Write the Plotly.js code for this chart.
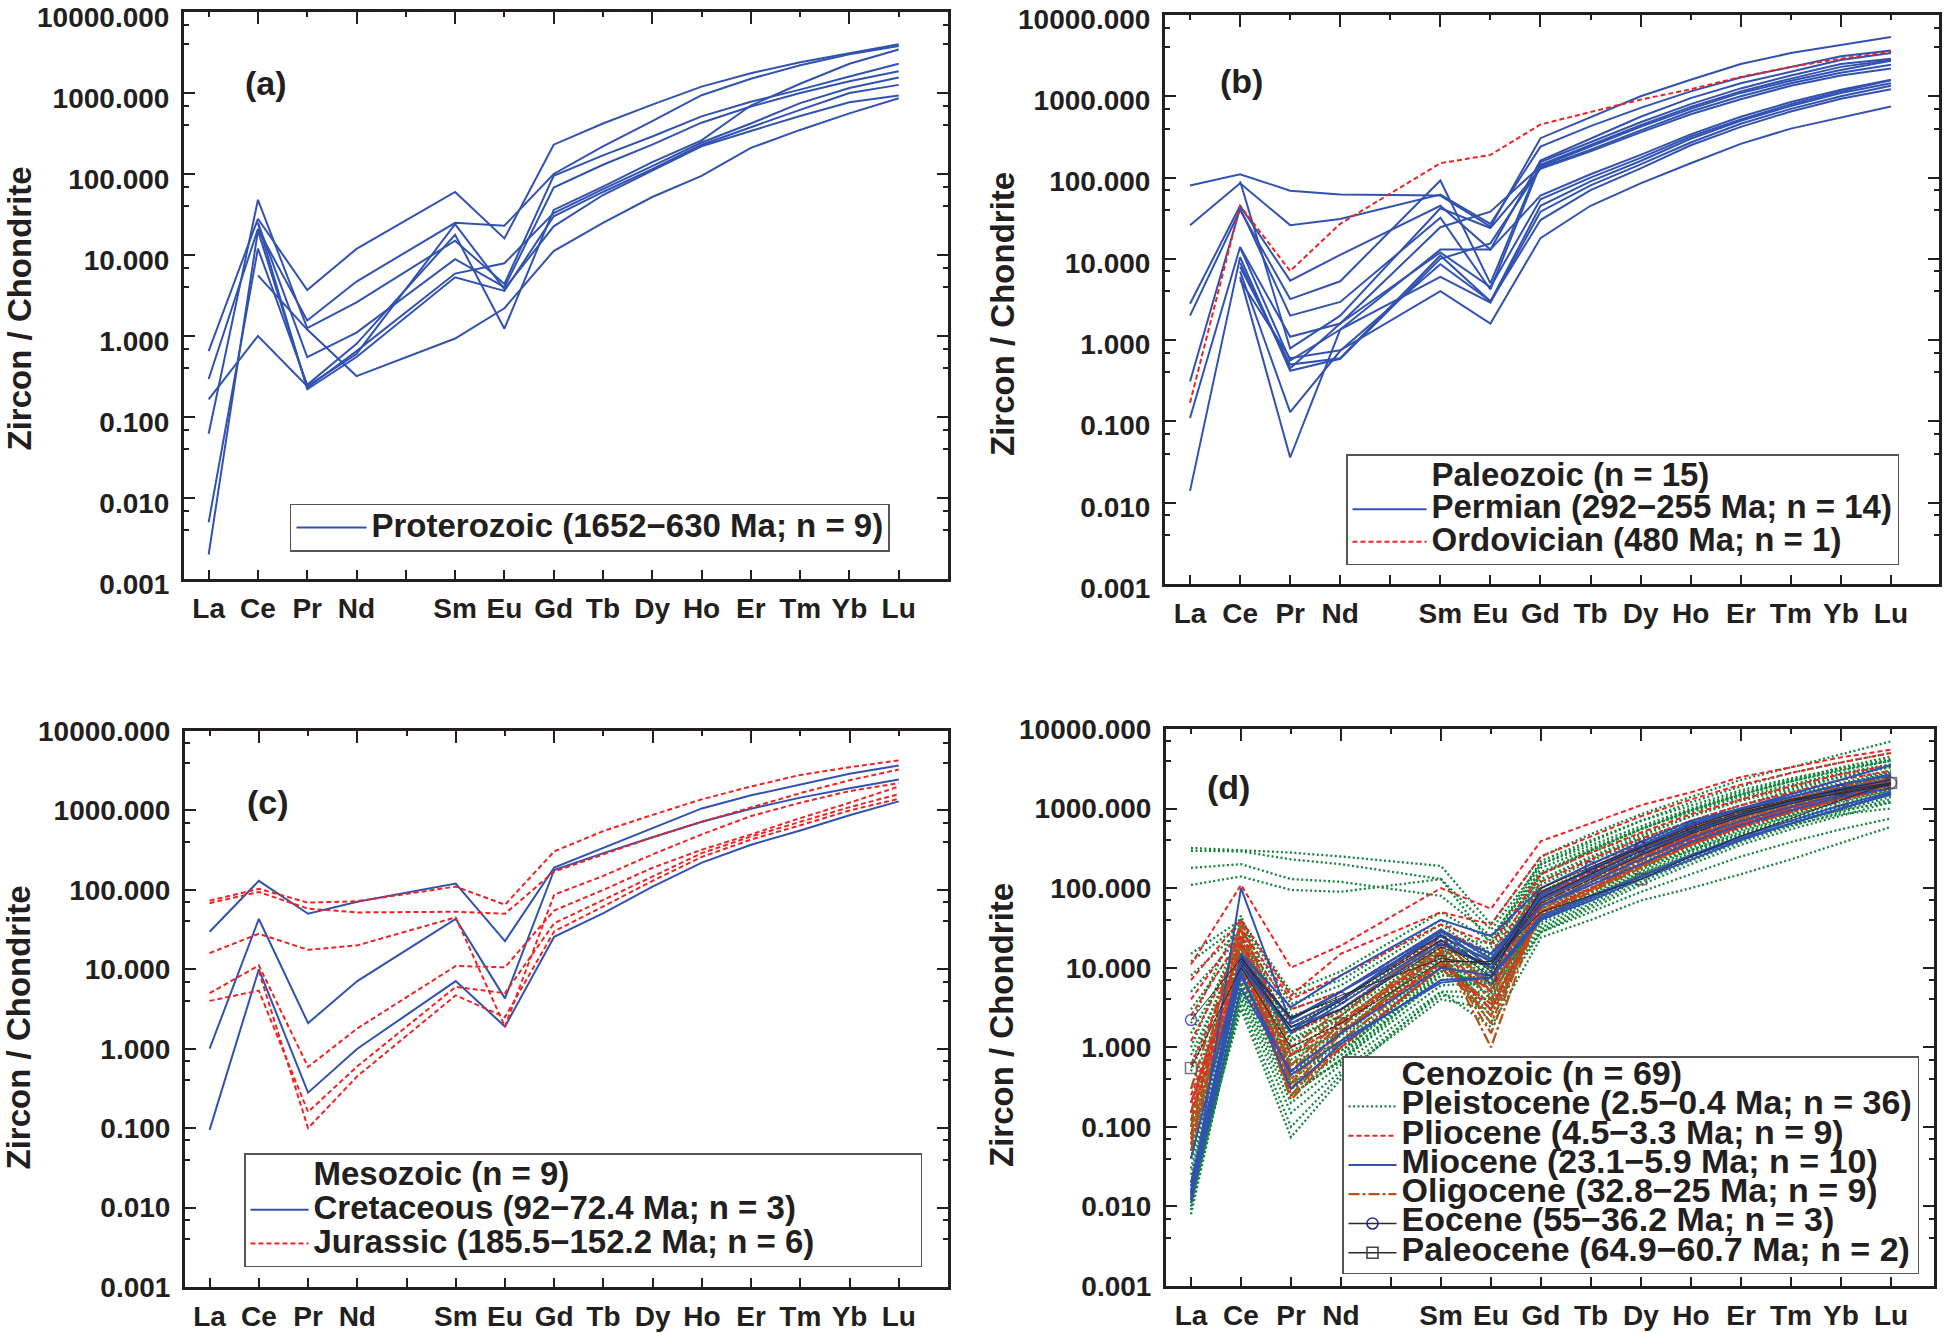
<!DOCTYPE html>
<html><head><meta charset="utf-8">
<script src="https://cdn.plot.ly/plotly-3.0.1.min.js"></script>
<style>html,body{margin:0;padding:0;background:#fff;}#chart{width:1946px;height:1333px;}</style>
</head><body><div id="chart"></div>
<script>
// ---------- axis labels ----------
const tickLabels = ['La','Ce','Pr','Nd','','Sm','Eu','Gd','Tb','Dy','Ho','Er','Tm','Yb','Lu'];
const tickPositions = [0,1,2,3,4,5,6,7,8,9,10,11,12,13,14];
// element order of every data row: La Ce Pr Nd Sm Eu Gd Tb Dy Ho Er Tm Yb Lu (Pm skipped)
const reePositions = [0,1,2,3,5,6,7,8,9,10,11,12,13,14];
const yTickVals = [0.001,0.01,0.1,1,10,100,1000,10000];
const yTickText = ['0.001','0.010','0.100','1.000','10.000','100.000','1000.000','10000.000'];
const yMinorVals = [0.004,0.007,0.04,0.07,0.4,0.7,4,7,40,70,400,700,4000,7000];

// ---------- (a) Proterozoic ----------
const proterozoic = [
 [0.65, 28, 3.7, 11.9, 60, 16, 230, 420, 720, 1200, 1750, 2400, 3100, 4000],
 [0.295, 21, 1.55, 4.7, 25, 23, 100, 220, 450, 940, 1500, 2200, 3000, 3800],
 [0.062, 48, 1.25, 2.6, 15, 4.4, 95, 170, 290, 515, 780, 1100, 1600, 2300],
 [null, 25, 0.55, 1.1, 8.9, 4.0, 68, 130, 230, 430, 680, 1000, 1400, 1860],
 [0.005, 12, 0.25, 0.8, 17.8, 1.23, 36, 70, 140, 260, 700, 1300, 2300, 3450],
 [0.002, 20, 0.23, 0.65, 5.9, 7.9, 33, 65, 125, 245, 420, 750, 1150, 1550],
 [null, 25, 0.22, 0.55, 5.3, 3.6, 30, 60, 115, 230, 380, 620, 1000, 1260],
 [0.165, 1.0, 0.24, 0.6, 24, 3.8, 22.6, 55, 110, 220, 340, 520, 770, 930],
 [null, 5.6, 1.2, 0.32, 0.93, 2.2, 11.2, 25, 52, 95, 210, 350, 560, 860]
];

// ---------- (b) Paleozoic ----------
const permian = [
 [80, 110, 69, 62, 60, 25, 305, 550, 1000, 1600, 2500, 3400, 4300, 5350],
 [25.9, 85, 26, 31, 62, 27, 240, 430, 720, 1150, 1700, 2300, 3100, 3650],
 [2.8, 45, 5.4, 11.2, 45, 13, 162, 300, 560, 950, 1450, 2000, 2800, 3400],
 [2.0, 40, 3.2, 5.3, 92, 5, 155, 270, 480, 800, 1250, 1800, 2500, 2900],
 [0.31, 42, 2.0, 2.95, 32, 4.2, 144, 250, 440, 740, 1150, 1650, 2300, 2800],
 [0.11, 14, 1.1, 1.6, 24.5, 38, 138, 240, 420, 700, 1100, 1550, 2100, 2740],
 [0.014, 10.5, 0.42, 0.59, 10, 15.5, 132, 220, 380, 650, 1000, 1450, 1950, 2440],
 [null, 90, 0.79, 2.0, 42, 24, 128, 210, 360, 600, 920, 1350, 1800, 2200],
 [null, 13.8, 0.56, 1.35, 13, 13, 60, 110, 190, 340, 560, 850, 1200, 1600],
 [null, 9, 0.45, 1.6, 12, 4.5, 54, 100, 175, 320, 520, 800, 1150, 1570],
 [null, 7, 0.13, 0.74, 8.6, 3, 45, 90, 160, 300, 500, 760, 1100, 1450],
 [null, 6, 0.036, 1.35, 6, 2.9, 38, 80, 145, 270, 460, 700, 1000, 1350],
 [null, 8, 0.5, 0.6, 11, 3, 30, 70, 130, 250, 420, 650, 930, 1220],
 [null, 5.5, 0.6, 0.75, 4, 1.6, 18, 45, 85, 150, 260, 400, 550, 750]
];
const ordovician = [
 [0.17, 45, 7.1, 27, 150, 190, 450, 640, 910, 1220, 1730, 2300, 2900, 3540]
];

// ---------- (c) Mesozoic ----------
const cretaceous = [
 [29.7, 130, 50, 71, 120, 22.6, 191, 340, 600, 1060, 1550, 2100, 2900, 3670],
 [1.0, 43, 2.1, 7.1, 43, 4.3, 178, 290, 460, 720, 1050, 1450, 1900, 2450],
 [0.095, 10, 0.28, 1.0, 7.1, 1.9, 25.6, 51, 110, 220, 370, 560, 870, 1300]
];
const jurassic = [
 [73, 103, 69, 72, 110, 65, 305, 550, 880, 1380, 2000, 2800, 3500, 4270],
 [68, 94, 58, 52, 53, 50, 170, 280, 460, 720, 1100, 1650, 2400, 3270],
 [16, 28, 17.6, 20, 45, 1.9, 87, 150, 280, 500, 850, 1250, 1750, 2200],
 [5.0, 11.2, 0.59, 1.8, 11, 10.6, 55, 100, 190, 320, 500, 800, 1250, 2000],
 [4.0, 5.4, 0.16, 0.6, 6.0, 5, 38, 75, 150, 290, 470, 720, 1100, 1600],
 [null, 9.5, 0.10, 0.45, 4.7, 2.5, 30, 62, 130, 260, 430, 650, 1000, 1400]
];

// ---------- (d) Cenozoic ----------
const pleistocene = [
 [320, 300, 280, 250, 190, 35, 250, 480, 850, 1400, 2300, 3300, 4800, 7000],
 [295, 290, 230, 200, 130, 30, 200, 380, 700, 1200, 1900, 2800, 3800, 5000],
 [180, 200, 130, 120, 80, 25, 160, 300, 550, 950, 1500, 2200, 3100, 4000],
 [110, 140, 95, 90, 130, 20, 130, 250, 450, 800, 1300, 1900, 2700, 3500],
 [15, 40, 5, 9, 50, 22, 220, 400, 700, 1100, 1700, 2400, 3200, 4200],
 [12, 35, 4.5, 7, 40, 15, 180, 320, 560, 900, 1400, 2000, 2800, 3600],
 [8, 30, 3.5, 6, 35, 12, 150, 280, 480, 800, 1250, 1800, 2500, 3300],
 [5, 25, 3, 5, 30, 10, 120, 240, 420, 700, 1100, 1600, 2300, 3000],
 [3, 22, 2.5, 4, 28, 14, 100, 200, 380, 650, 1000, 1500, 2100, 2900],
 [1.5, 20, 2, 3.5, 25, 9, 90, 180, 340, 600, 950, 1400, 2000, 2800],
 [0.8, 18, 1.8, 3, 22, 8, 85, 170, 320, 560, 900, 1350, 1900, 2600],
 [0.5, 16, 1.5, 2.8, 20, 7, 80, 160, 300, 520, 850, 1300, 1800, 2500],
 [0.3, 15, 1.3, 2.5, 18, 6, 75, 150, 280, 500, 800, 1200, 1700, 2400],
 [0.2, 14, 1.2, 2.2, 17, 5, 70, 140, 260, 470, 760, 1150, 1650, 2300],
 [0.12, 13, 1.0, 2, 16, 4, 65, 130, 250, 450, 720, 1100, 1600, 2200],
 [0.08, 12, 0.9, 1.8, 15, 3, 60, 120, 230, 420, 680, 1050, 1500, 2100],
 [0.05, 11, 0.8, 1.6, 14, 2.5, 55, 110, 210, 400, 650, 1000, 1450, 2000],
 [0.04, 10, 0.7, 1.5, 13, 2, 50, 100, 200, 380, 620, 950, 1400, 1900],
 [0.03, 9, 0.6, 1.4, 12, 3.5, 48, 95, 190, 360, 600, 900, 1350, 1850],
 [0.025, 8, 0.5, 1.2, 11, 4.5, 45, 90, 180, 340, 570, 850, 1300, 1800],
 [0.02, 7, 0.45, 1.1, 10, 5.5, 42, 85, 170, 320, 540, 820, 1250, 1700],
 [0.015, 6, 0.4, 1.0, 9, 6, 40, 80, 160, 300, 510, 800, 1200, 1650],
 [0.012, 6.5, 0.35, 0.9, 8, 7, 38, 75, 150, 280, 480, 750, 1100, 1550],
 [0.01, 5.5, 0.3, 0.8, 7, 8, 35, 70, 140, 260, 450, 700, 1050, 1500],
 [0.008, 5, 0.25, 0.7, 6, 6.5, 32, 65, 130, 240, 420, 650, 950, 1400],
 [0.009, 4.5, 0.2, 0.6, 5, 5, 30, 60, 120, 220, 380, 600, 900, 1300],
 [0.011, 4, 0.15, 0.5, 4.5, 4, 28, 55, 110, 200, 350, 550, 820, 1200],
 [0.014, 3.5, 0.1, 0.45, 4, 3, 28, 50, 90, 150, 250, 380, 550, 750],
 [0.018, 3, 0.074, 0.4, 5, 1.8, 24, 40, 70, 100, 150, 230, 370, 590],
 [0.6, 25, 0.5, 0.9, 10, 12, 110, 220, 400, 700, 1100, 1700, 2500, 3400],
 [1, 30, 0.8, 1.5, 15, 18, 150, 300, 550, 950, 1500, 2200, 3000, 4000],
 [2, 45, 1.2, 2.5, 25, 20, 200, 350, 600, 1000, 1600, 2300, 3300, 4500],
 [0.15, 20, 0.35, 0.8, 12, 11, 75, 140, 250, 420, 650, 950, 1300, 1700],
 [0.06, 12, 0.25, 0.7, 9, 9, 55, 100, 180, 300, 480, 700, 950, 1200],
 [0.04, 8, 0.3, 0.65, 8, 10, 45, 80, 150, 260, 420, 620, 850, 1000],
 [0.1, 9, 0.6, 1.2, 20, 13, 90, 170, 300, 500, 800, 1200, 1700, 2200]
];
const pliocene = [
 [11, 110, 10, 19, 100, 55, 390, 650, 1100, 1600, 2500, 3300, 4400, 5500],
 [7, 40, 4.5, 15, 50, 35, 250, 450, 800, 1300, 2000, 2800, 3800, 5000],
 [4, 30, 4, 8, 35, 20, 150, 280, 500, 850, 1300, 1900, 2700, 3500],
 [2.5, 25, 3, 5, 30, 15, 120, 230, 420, 700, 1100, 1600, 2300, 3000],
 [1.2, 20, 2, 4, 25, 12, 100, 200, 360, 600, 950, 1400, 2000, 2600],
 [0.6, 15, 1.5, 3, 20, 10, 80, 160, 300, 500, 800, 1200, 1700, 2300],
 [0.25, 12, 0.8, 2, 15, 5, 60, 120, 230, 400, 650, 1000, 1400, 2000],
 [0.2, 10, 0.5, 1.5, 12, 3, 50, 100, 200, 350, 580, 900, 1300, 1800],
 [0.15, 8, 0.3, 1, 10, 8, 70, 140, 260, 450, 700, 1050, 1500, 2100]
];
const miocene = [
 [0.012, 100, 2.0, 4, 30, 10, 80, 180, 350, 650, 1000, 1500, 2300, 3500],
 [0.015, 15, 3.2, 8, 40, 25, 100, 200, 380, 700, 1000, 1400, 2000, 2600],
 [0.02, 12, 2.3, 5, 25, 12, 75, 150, 300, 550, 850, 1250, 1800, 2300],
 [0.011, 10, 1.6, 4, 28, 15, 70, 140, 270, 500, 800, 1200, 1700, 2100],
 [0.04, 13, 1.5, 3.5, 22, 10, 60, 110, 200, 380, 620, 950, 1400, 1800],
 [0.013, 5.5, 0.5, 1.5, 10, 8, 45, 80, 140, 250, 420, 650, 1000, 1500],
 [0.014, 9, 0.3, 1.1, 7, 7.5, 40, 70, 130, 230, 400, 650, 1000, 1550],
 [0.016, 11, 1.8, 3, 20, 10, 60, 120, 230, 430, 700, 1050, 1500, 2000],
 [0.012, 14, 2.2, 5, 30, 13, 85, 170, 330, 620, 950, 1400, 2000, 2700],
 [0.018, 8, 0.45, 1.2, 6.5, 7.5, 42, 75, 140, 260, 450, 700, 1100, 1600]
];
const oligocene = [
 [0.15, 40, 0.8, 2.5, 25, 5, 80, 150, 300, 550, 850, 1300, 1900, 2500],
 [0.1, 30, 0.5, 2, 20, 4, 70, 140, 270, 500, 800, 1200, 1700, 2300],
 [0.08, 25, 0.35, 1.8, 18, 1.0, 60, 120, 240, 450, 750, 1100, 1600, 2200],
 [0.06, 20, 0.3, 1.5, 15, 2, 55, 110, 220, 420, 700, 1050, 1500, 2100],
 [0.2, 18, 0.25, 1.2, 12, 3, 50, 100, 200, 380, 650, 1000, 1400, 2000],
 [0.05, 15, 0.22, 1, 10, 2.5, 45, 90, 180, 350, 600, 900, 1300, 1800],
 [0.3, 35, 1, 3, 22, 6, 90, 170, 320, 580, 900, 1300, 1800, 2400],
 [0.12, 22, 0.6, 2.2, 16, 1.5, 65, 130, 250, 470, 760, 1150, 1650, 2200],
 [0.07, 12, 0.4, 1.6, 11, 3.5, 48, 95, 190, 360, 620, 950, 1350, 1900]
];
const eocene = [
 [2.2, 13, 2.4, 4.2, 22, 7.6, 100, 185, 330, 590, 950, 1300, 1700, 2100],
 [null, 11, 1.8, 3.8, 26, 9, 75, 150, 290, 520, 850, 1250, 1750, 2300],
 [null, 14, 1.6, 3, 18, 11, 65, 130, 260, 480, 800, 1150, 1600, 2050]
];
const paleocene = [
 [0.55, 10, 1.0, 2.0, 12, 12, 50, 80, 130, 250, 450, 750, 1280, 2100],
 [null, 12, 2.3, 4.5, 13, 11, 90, 170, 320, 560, 900, 1250, 1550, 2000]
];

// ---------- styles ----------
const FONT = 'Liberation Sans, Arial, Helvetica, sans-serif';
const INK = '#231f20';
const BLUE = '#3152b0', RED = '#ee2424', GREEN = '#13853a', BROWN = '#b5521c';
const styleBlue = {color: BLUE, width: 2};
const styleRed = {color: RED, width: 2, dash: '5px,3px'};
const styleGreen = {color: GREEN, width: 2.3, dash: '2px,2.5px'};
const styleBrown = {color: BROWN, width: 2.3, dash: '11px,3px,3px,3px'};
const styleBlack = {color: '#2a2a2a', width: 1.0};
const NBSP = '\u00a0';

function legendName(t, px){ return '<span style="font-size:' + (px || 33) + 'px">' + t + '</span>'; }

const traces = [];
function addGroup(rows, line, xa, ya, legendId, name, rank, px){
  rows.forEach((vals, i) => {
    traces.push({type:'scatter', mode:'lines', x: reePositions, y: vals, xaxis: xa, yaxis: ya,
      line: line, connectgaps: true, hoverinfo: 'skip',
      legend: legendId, legendrank: rank, name: legendName(name, px),
      showlegend: i === 0});
  });
}
function addMarked(rows, line, marker, sizes, xa, ya){
  rows.forEach((vals, i) => {
    traces.push({type:'scatter', mode:'lines+markers', x: reePositions, y: vals, xaxis: xa, yaxis: ya,
      line: line, connectgaps: true, hoverinfo: 'skip', showlegend: false,
      marker: Object.assign({}, marker, {size: sizes[i]})});
  });
}
function addHeader(name, xa, ya, legendId, rank, px){
  traces.push({type:'scatter', mode:'lines', x:[null], y:[null], xaxis: xa, yaxis: ya,
    line:{color:'rgba(0,0,0,0)', width:0}, legend: legendId, legendrank: rank,
    name: legendName(name, px), showlegend: true, hoverinfo:'skip'});
}
function addLegendOnly(name, line, marker, mode, xa, ya, legendId, rank, px){
  traces.push({type:'scatter', mode: mode, x:[null], y:[null], xaxis: xa, yaxis: ya,
    line: line, marker: marker, legend: legendId, legendrank: rank,
    name: legendName(name, px), showlegend: true, hoverinfo:'skip'});
}

// (a)
addGroup(proterozoic, styleBlue, 'x', 'y', 'legend', 'Proterozoic (1652\u2212630 Ma; n = 9)', 1);
// (b)
addHeader('Paleozoic (n = 15)', 'x2', 'y2', 'legend2', 1);
addGroup(permian, styleBlue, 'x2', 'y2', 'legend2', 'Permian (292\u2212255 Ma; n = 14)', 2);
addGroup(ordovician, styleRed, 'x2', 'y2', 'legend2', 'Ordovician (480 Ma; n = 1)', 3);
// (c)
addHeader('Mesozoic (n = 9)', 'x3', 'y3', 'legend3', 1);
addGroup(cretaceous, styleBlue, 'x3', 'y3', 'legend3', 'Cretaceous (92\u221272.4 Ma; n = 3)', 2);
addGroup(jurassic, styleRed, 'x3', 'y3', 'legend3', 'Jurassic (185.5\u2212152.2 Ma; n = 6)' + NBSP.repeat(11), 3);
// (d)  drawing order: green, brown, red, blue, black
const PXD = 34;
addHeader('Cenozoic (n = 69)', 'x4', 'y4', 'legend4', 1, PXD);
addGroup(pleistocene, styleGreen, 'x4', 'y4', 'legend4', 'Pleistocene (2.5\u22120.4 Ma; n = 36)', 2, PXD);
addGroup(oligocene, styleBrown, 'x4', 'y4', 'legend4', 'Oligocene (32.8\u221225 Ma; n = 9)', 5, PXD);
addGroup(pliocene, styleRed, 'x4', 'y4', 'legend4', 'Pliocene (4.5\u22123.3 Ma; n = 9)', 3, PXD);
addGroup(miocene, styleBlue, 'x4', 'y4', 'legend4', 'Miocene (23.1\u22125.9 Ma; n = 10)', 4, PXD);
const eoMarker = {symbol:'circle-open', color:'#2b2b8c', line:{width:1.6, color:'#2b2b8c'}};
const paMarker = {symbol:'square-open', color:'#444', line:{width:1.6, color:'#444'}};
addMarked(eocene, styleBlack, eoMarker,
  [[11,0,0,11,11,11,0,11,11,11,0,0,11,11],[0,0,0,0,0,0,0,0,0,0,0,0,0,0],[0,0,0,0,0,0,0,0,0,0,0,0,0,0]], 'x4', 'y4');
addMarked(paleocene, styleBlack, paMarker,
  [[11,0,0,11,11,0,0,0,11,0,0,0,11,11],[0,0,0,0,0,0,0,0,0,0,0,0,0,0]], 'x4', 'y4');
addLegendOnly('Eocene (55\u221236.2 Ma; n = 3)', {color:'#2a2a2a', width:1.4}, Object.assign({size:11}, eoMarker), 'lines+markers', 'x4', 'y4', 'legend4', 6, PXD);
addLegendOnly('Paleocene (64.9\u221260.7 Ma; n = 2)', {color:'#2a2a2a', width:1.4}, Object.assign({size:11}, paMarker), 'lines+markers', 'x4', 'y4', 'legend4', 7, PXD);

// ---------- axes ----------
const tickFont = {family: FONT, size: 28, color: INK, weight: 'bold'};
function xAxis(domain, anchor, rng){
  return {domain: domain, anchor: anchor, range: rng, tickmode:'array', tickvals: tickPositions, ticktext: tickLabels,
    ticks:'inside', ticklen: 9, tickwidth: 2, tickcolor: INK, showline: true, linewidth: 3, linecolor: INK,
    mirror: true, showgrid: false, zeroline: false, tickfont: tickFont, fixedrange: true,
    ticklabelstandoff: 2, ticklabeloverflow: 'allow'};
}
function topAxis(over, anchor, rng){
  return {overlaying: over, anchor: anchor, side: 'top', range: rng, tickmode:'array',
    tickvals: tickPositions.filter(v => v % 2 === 1), ticks:'inside', ticklen: 12, tickwidth: 2, tickcolor: INK,
    minor: {tickmode:'array', tickvals: tickPositions.filter(v => v % 2 === 0), ticks:'inside', ticklen: 5, tickwidth: 2, tickcolor: INK},
    showticklabels: false, showline: false, showgrid: false, zeroline: false, fixedrange: true};
}
function yAxis(domain, anchor, shift){
  return {domain: domain, anchor: anchor, type:'log', range:[-3, 4], tickmode:'array', tickvals: yTickVals, ticktext: yTickText,
    ticks:'inside', ticklen: 11, tickwidth: 2, tickcolor: INK, showline: true, linewidth: 3, linecolor: INK,
    mirror: 'ticks', showgrid: false, zeroline: false, tickfont: tickFont, fixedrange: true,
    ticklabelstandoff: 6, ticklabelshift: shift, ticklabeloverflow: 'allow',
    minor: {tickmode:'array', tickvals: yMinorVals, ticks:'inside', ticklen: 5, tickwidth: 2, tickcolor: INK, showgrid: false}};
}
const rangeA = [-0.5, 15.0], rangeB = [-0.5, 14.96], rangeC = [-0.5, 15.0], rangeD = [-0.5, 14.86];

function legendBox(x, y, size, itemW){
  return {x: x, y: y, xanchor:'left', yanchor:'top', bgcolor:'#ffffff', bordercolor:'#555', borderwidth: 1.5,
    font:{family: FONT, size: size, color: INK, weight:'bold'}, itemwidth: itemW, tracegroupgap: 0, traceorder:'normal'};
}

function ann(text, x, y, size, angle){
  return {text: text, x: x, y: y, xref:'paper', yref:'paper', showarrow:false, xanchor:'center', yanchor:'middle',
    textangle: angle || 0, font:{family: FONT, size: size, color: INK, weight:'bold'}};
}

const layout = {
  width: 1946, height: 1333, margin:{l:0, r:0, t:0, b:0},
  paper_bgcolor:'#ffffff', plot_bgcolor:'#ffffff', showlegend: true,
  font:{family: FONT, color: INK},
  xaxis: xAxis([0.094553, 0.487153], 'y', rangeA),
  yaxis: yAxis([0.565641, 0.990998], 'x', 5),
  xaxis2: xAxis([0.598664, 0.996403], 'y2', rangeB),
  yaxis2: yAxis([0.561890, 0.988747], 'x2', 4),
  xaxis3: xAxis([0.095067, 0.487153], 'y3', rangeC),
  yaxis3: yAxis([0.034509, 0.451613], 'x3', 0),
  xaxis4: xAxis([0.599178, 0.993834], 'y4', rangeD),
  yaxis4: yAxis([0.035259, 0.453113], 'x4', 0),
  xaxis5: topAxis('x', 'y', rangeA),
  xaxis6: topAxis('x2', 'y2', rangeB),
  xaxis7: topAxis('x3', 'y3', rangeC),
  xaxis8: topAxis('x4', 'y4', rangeD),
  legend: legendBox(0.14902, 0.62191, 24, 70),
  legend2: legendBox(0.69168, 0.65941, 22.7, 74),
  legend3: legendBox(0.12539, 0.13503, 23.5, 58),
  legend4: legendBox(0.68962, 0.20780, 20.2, 48),
  annotations: [
    ann('Zircon / Chondrite', 0.01000, 0.76894, 33, -90),
    ann('Zircon / Chondrite', 0.51490, 0.76444, 33, -90),
    ann('Zircon / Chondrite', 0.01000, 0.22956, 33, -90),
    ann('Zircon / Chondrite', 0.51490, 0.23106, 33, -90),
    ann('(a)', 0.13669, 0.93773, 34),
    ann('(b)', 0.63772, 0.93923, 34),
    ann('(c)', 0.13772, 0.39835, 34),
    ann('(d)', 0.63155, 0.40960, 34)
  ]
};

// empty traces so the top tick axes get drawn
['x5','x6','x7','x8'].forEach((xa, i) => {
  traces.push({type:'scatter', mode:'lines', x:[null], y:[null], xaxis: xa, yaxis: ['y','y2','y3','y4'][i], showlegend:false, hoverinfo:'skip'});
});

Plotly.newPlot('chart', traces, layout, {displayModeBar:false, staticPlot:true});
</script></body></html>
